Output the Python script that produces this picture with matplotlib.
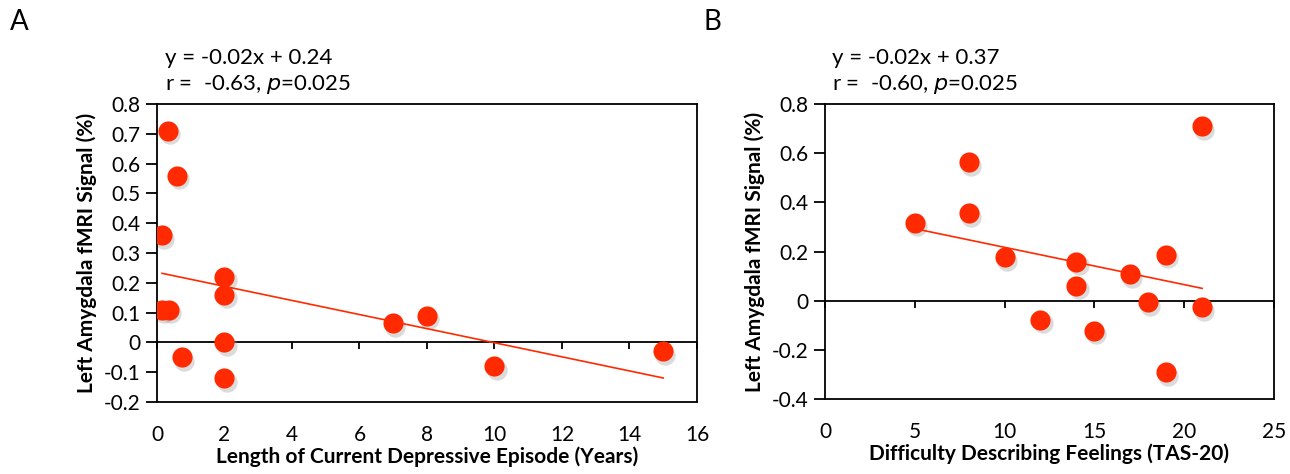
import matplotlib
matplotlib.use('Agg')
import matplotlib.pyplot as plt
import numpy as np

plt.rcParams['font.family'] = ['Lato', 'DejaVu Sans']

# Панель A: длительность эпизода (годы) и сигнал
years = [0.33, 0.58, 0.15, 0.15, 0.35, 2, 2, 2, 2, 0.75, 7, 8, 10, 15]
signal_a = [0.71, 0.56, 0.36, 0.11, 0.11, 0.22, 0.16, 0.0, -0.12, -0.05, 0.065, 0.09, -0.08, -0.03]
xticks_a = [0, 2, 4, 6, 8, 10, 12, 14, 16]
yticks_a = [-0.2, -0.1, 0, 0.1, 0.2, 0.3, 0.4, 0.5, 0.6, 0.7, 0.8]
ylabels_a = ['-0.2', '-0.1', '0', '0.1', '0.2', '0.3', '0.4', '0.5', '0.6', '0.7', '0.8']

# Панель B: TAS-20 и сигнал
tas = [5, 8, 8, 10, 12, 14, 14, 15, 17, 18, 19, 19, 21, 21]
signal_b = [0.318, 0.564, 0.356, 0.178, -0.077, 0.16, 0.062, -0.12, 0.108, -0.005, 0.188, -0.289, 0.71, -0.026]
xticks_b = [0, 5, 10, 15, 20, 25]
yticks_b = [-0.4, -0.2, 0, 0.2, 0.4, 0.6, 0.8]
ylabels_b = ['-0.4', '-0.2', '0', '0.2', '0.4', '0.6', '0.8']

red = '#ff2a00'
ylab = 'Left Amygdala fMRI Signal (%)'

fig = plt.figure(figsize=(12.9, 4.74), dpi=100)
ax_a = fig.add_axes([0.1217, 0.1519, 0.4186, 0.6287])
ax_b = fig.add_axes([0.6395, 0.1572, 0.3481, 0.6234])


def panel(ax, x, y, xticks, yticks, ylabels, xlim, ylim, xlabel, eq, stat):
    ax.set_xlim(*xlim)
    ax.set_ylim(*ylim)
    # тень под точками
    shift = matplotlib.transforms.ScaledTranslation(1.5 / 72, -2.5 / 72, fig.dpi_scale_trans)
    ax.scatter(x, y, s=215, color='#999999', alpha=0.35, linewidths=0, zorder=2,
               transform=ax.transData + shift)
    ax.scatter(x, y, s=210, color=red, linewidths=0, zorder=3)
    k, b = np.polyfit(x, y, 1)
    xs = np.array([min(x), max(x)])
    ax.plot(xs, k * xs + b, color=red, lw=1.2, zorder=2.5)
    ax.axhline(0, color='black', lw=1.3, zorder=1)

    ax.set_yticks(yticks)
    ax.set_yticklabels(ylabels)
    ax.tick_params(axis='y', direction='out', length=8, width=1.3, labelsize=15, pad=4)
    ax.set_xticks(xticks)
    ax.tick_params(axis='x', length=0, labelsize=15, pad=16.5)
    for s in ax.spines.values():
        s.set_linewidth(1.3)

    # засечки на линии нуля
    zero = (0 - ylim[0]) / (ylim[1] - ylim[0])
    sec = ax.secondary_xaxis(zero)
    sec.set_xticks(xticks)
    sec.tick_params(direction='out', length=5, width=1.3, labelbottom=False)
    sec.spines['bottom'].set_visible(False)

    ax.set_xlabel(xlabel, fontsize=15, fontweight='bold', labelpad=1)
    ax.set_ylabel(ylab, fontsize=15, fontweight='bold', labelpad=5)
    ax.text(0.015, 1.156, eq, transform=ax.transAxes, fontsize=16, va='center')
    ax.text(0.015, 1.066, stat, transform=ax.transAxes, fontsize=16, va='center')


panel(ax_a, years, signal_a, xticks_a, yticks_a, ylabels_a, (0, 16), (-0.2, 0.8),
      'Length of Current Depressive Episode (Years)',
      'y = -0.02x + 0.24', r'r =  -0.63, $\it{p}$=0.025')
panel(ax_b, tas, signal_b, xticks_b, yticks_b, ylabels_b, (0, 25), (-0.4, 0.8),
      'Difficulty Describing Feelings (TAS-20)',
      'y = -0.02x + 0.37', r'r =  -0.60, $\it{p}$=0.025')

fig.text(10 / 1290, 1 - 22 / 474, 'A', fontsize=20, va='center', ha='left')
fig.text(703 / 1290, 1 - 22 / 474, 'B', fontsize=20, va='center', ha='left')

fig.savefig('out.png', dpi=100)
